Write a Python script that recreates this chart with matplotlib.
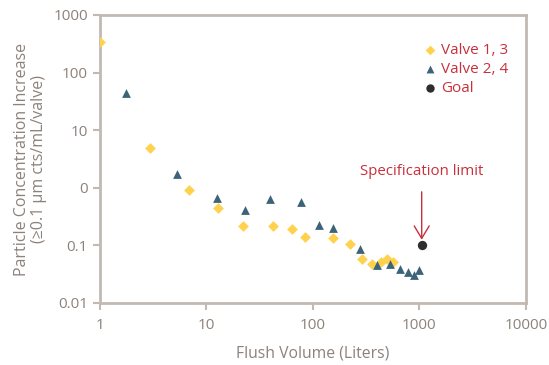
import numpy as np
import matplotlib
matplotlib.use("Agg")
import matplotlib.pyplot as plt
from matplotlib.ticker import FixedLocator, FixedFormatter, NullLocator

# data
v13_x = [1, 2.95, 6.85, 12.8, 22, 42, 63, 85, 154, 222, 292, 358, 432, 492, 568]
v13_y = [340, 4.9, 0.92, 0.45, 0.22, 0.22, 0.19, 0.14, 0.133, 0.106, 0.058, 0.048, 0.052, 0.057, 0.051]
v24_x = [1.75, 5.3, 12.6, 23, 39.5, 77, 113, 154, 274, 399, 528, 652, 780, 888, 990]
v24_y = [44, 1.74, 0.66, 0.41, 0.64, 0.56, 0.23, 0.20, 0.088, 0.046, 0.048, 0.039, 0.035, 0.030, 0.038]
goal_x = [1050]
goal_y = [0.1]

xticks = [1, 10, 100, 1000, 10000]
xlabels = ['1', '10', '100', '1000', '10000']
yticks = [0.01, 0.1, 1, 10, 100, 1000]
ylabels = ['0.01', '0.1', '0', '10', '100', '1000']

gray = '#8c827b'
spine_c = '#c2b9b2'
red = '#c8303c'

plt.rcParams['font.family'] = ['Open Sans', 'DejaVu Sans']

fig = plt.figure(figsize=(5.49, 3.65), dpi=100)
ax = fig.add_axes([0.182, 0.170, 0.776, 0.789])

ax.scatter(v13_x, v13_y, marker='D', s=30, color='#ffd24d', label='Valve 1, 3', zorder=3, linewidths=0)
ax.scatter(v24_x, v24_y, marker='^', s=40, color='#3c6479', label='Valve 2, 4', zorder=3, linewidths=0)
ax.scatter(goal_x, goal_y, marker='o', s=45, color='#2e2e2e', label='Goal', zorder=3, linewidths=0)

ax.set_xscale('log')
ax.set_yscale('log')
ax.set_xlim(1, 10000)
ax.set_ylim(0.01, 1000)

ax.xaxis.set_major_locator(FixedLocator(xticks))
ax.xaxis.set_major_formatter(FixedFormatter(xlabels))
ax.yaxis.set_major_locator(FixedLocator(yticks))
ax.yaxis.set_major_formatter(FixedFormatter(ylabels))
ax.xaxis.set_minor_locator(NullLocator())
ax.yaxis.set_minor_locator(NullLocator())

for s in ax.spines.values():
    s.set_color(spine_c)
    s.set_linewidth(2)
ax.tick_params(axis='both', colors=spine_c, width=1.5, length=5, labelcolor=gray, labelsize=11)
ax.tick_params(axis='x', pad=6)

ax.set_xlabel('Flush Volume (Liters)', color=gray, fontsize=11.3, labelpad=9)
ax.set_ylabel('Particle Concentration Increase\n(≥0.1 µm cts/mL/valve)', color=gray, fontsize=11.5,
              labelpad=5, linespacing=1.05)

ax.annotate('Specification limit', xy=(1050, 0.125), xytext=(1050, 1.4),
            ha='center', va='bottom', color=red, fontsize=10.8,
            arrowprops=dict(arrowstyle='->,head_length=0.5,head_width=0.3', color=red, lw=1,
                            mutation_scale=18, shrinkA=7, shrinkB=0))

leg = ax.legend(loc='upper right', bbox_to_anchor=(0.99, 0.95), frameon=False, fontsize=11,
                handletextpad=0.1, labelspacing=0.25, markerscale=0.9, handlelength=1.2)
for t in leg.get_texts():
    t.set_color(red)

fig.savefig('out.png', dpi=100)
